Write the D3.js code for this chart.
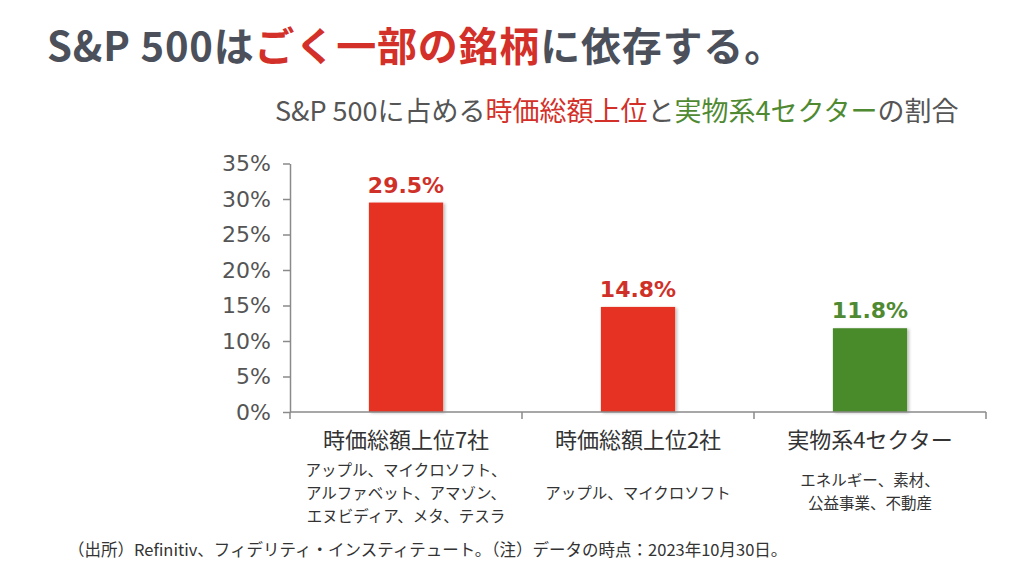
<!DOCTYPE html>
<html>
<head>
<meta charset="utf-8">
<script src="https://cdn.jsdelivr.net/npm/d3@7"></script>
<style>
  body { margin: 0; background: #fff; }
  svg { display: block; font-family: "Noto Sans CJK JP", "Noto Sans", sans-serif; }
</style>
</head>
<body>
<svg id="chart" width="1024" height="566"></svg>
<script>
const categories = ["時価総額上位7社", "時価総額上位2社", "実物系4セクター"];
const values = [29.5, 14.8, 11.8];
const members = [
  ["アップル、マイクロソフト、", "アルファベット、アマゾン、", "エヌビディア、メタ、テスラ"],
  ["アップル、マイクロソフト"],
  ["エネルギー、素材、", "公益事業、不動産"]
];
const yTicks = [0, 5, 10, 15, 20, 25, 30, 35];
const barColors = ["#e63323", "#e63323", "#4a8a2c"];
const labelColors = ["#cf3129", "#cf3129", "#4f8a32"];

const svg = d3.select("#chart");

// title
const title = svg.append("text")
  .attr("x", 47)
  .attr("y", 61)
  .style("font-size", "40px")
  .style("font-weight", "bold")
  .style("letter-spacing", "0.8px")
  .style("fill", "#4b505b");
title.append("tspan").text("S&P 500は");
title.append("tspan").style("fill", "#d3302a").text("ごく一部の銘柄");
title.append("tspan").text("に依存する。");

// subtitle
const sub = svg.append("text")
  .attr("x", 275)
  .attr("y", 121)
  .style("font-size", "27px")
  .style("fill", "#555");
sub.append("tspan").text("S&P 500に占める");
sub.append("tspan").style("fill", "#d3302a").text("時価総額上位");
sub.append("tspan").text("と");
sub.append("tspan").style("fill", "#4f8a32").text("実物系4セクター");
sub.append("tspan").text("の割合");

const x = d3.scaleBand()
  .domain(categories)
  .range([290, 986])
  .paddingInner(0.68)
  .paddingOuter(0.34);

const y = d3.scaleLinear()
  .domain([0, 35])
  .range([412, 163.5]);

const defs = svg.append("defs");
defs.append("filter")
  .attr("id", "shadow")
  .attr("x", "-10%").attr("y", "-10%").attr("width", "130%").attr("height", "120%")
  .append("feDropShadow")
  .attr("dx", 2).attr("dy", 1).attr("stdDeviation", 1.5)
  .attr("flood-color", "#000").attr("flood-opacity", 0.25);

// y axis
const yAxis = svg.append("g")
  .attr("transform", "translate(290,0)")
  .call(d3.axisLeft(y).tickValues(yTicks).tickFormat(d => d + "%").tickSize(7).tickSizeOuter(0));
yAxis.select(".domain").attr("stroke", "#8a8a8a").attr("stroke-width", 1.5);
yAxis.selectAll(".tick line").attr("stroke", "#8a8a8a").attr("stroke-width", 1.5);
yAxis.selectAll(".tick text")
  .attr("x", -19)
  .style("font-size", "22px")
  .style("font-family", "'DejaVu Sans', sans-serif")
  .style("fill", "#555");

// bars
svg.selectAll("rect.bar")
  .data(values)
  .enter()
  .append("rect")
  .attr("class", "bar")
  .attr("x", (d, i) => x(categories[i]))
  .attr("y", d => y(d))
  .attr("width", x.bandwidth())
  .attr("height", d => y(0) - y(d))
  .attr("fill", (d, i) => barColors[i])
  .attr("filter", "url(#shadow)");

// value labels
svg.selectAll("text.val")
  .data(values)
  .enter()
  .append("text")
  .attr("class", "val")
  .attr("x", (d, i) => x(categories[i]) + x.bandwidth() / 2)
  .attr("y", d => y(d) - 10)
  .attr("text-anchor", "middle")
  .style("font-size", "22px")
  .style("font-weight", "bold")
  .style("font-family", "'DejaVu Sans', sans-serif")
  .style("fill", (d, i) => labelColors[i])
  .text(d => d.toFixed(1) + "%");

// x axis with ticks at band boundaries
const boundaries = [290].concat(categories.map(c => x(c) - x.step() * x.paddingInner() / 2 + x.step()));
const xAxis = svg.append("g");
xAxis.append("line")
  .attr("x1", 290).attr("x2", 986)
  .attr("y1", y(0)).attr("y2", y(0))
  .attr("stroke", "#8a8a8a").attr("stroke-width", 1.5);
xAxis.selectAll("line.tick")
  .data(boundaries)
  .enter()
  .append("line")
  .attr("class", "tick")
  .attr("x1", d => d).attr("x2", d => d)
  .attr("y1", y(0)).attr("y2", y(0) + 7)
  .attr("stroke", "#8a8a8a").attr("stroke-width", 1.5);

// category labels
svg.selectAll("text.cat")
  .data(categories)
  .enter()
  .append("text")
  .attr("class", "cat")
  .attr("x", d => x(d) + x.bandwidth() / 2)
  .attr("y", 448)
  .attr("text-anchor", "middle")
  .style("font-size", "22px")
  .style("fill", "#333")
  .text(d => d);

// member lists
members.forEach((lines, i) => {
  const cx = x(categories[i]) + x.bandwidth() / 2;
  const startY = lines.length === 3 ? 476 : lines.length === 2 ? 486 : 499;
  svg.append("g")
    .selectAll("text")
    .data(lines)
    .enter()
    .append("text")
    .attr("x", cx)
    .attr("y", (d, j) => startY + j * 23)
    .attr("text-anchor", "middle")
    .style("font-size", "15.5px")
    .style("fill", "#333")
    .text(d => d);
});

// source note
svg.append("text")
  .attr("x", 68)
  .attr("y", 556)
  .style("font-size", "16.5px")
  .style("fill", "#333")
  .text("（出所）Refinitiv、フィデリティ・インスティテュート。（注）データの時点：2023年10月30日。");
</script>
</body>
</html>
